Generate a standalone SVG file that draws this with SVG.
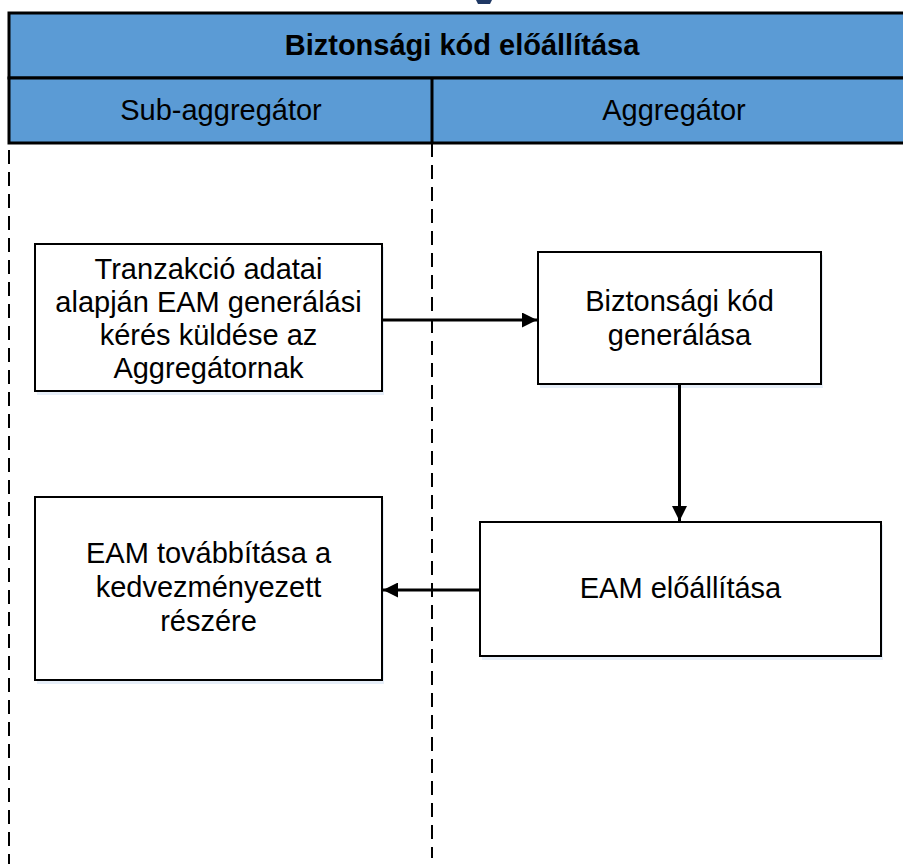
<svg xmlns="http://www.w3.org/2000/svg" width="903" height="864" viewBox="0 0 903 864">
<style>
.hdr{fill:#5b9bd5;stroke:#000;stroke-width:3}
.title{font-family:"Liberation Sans",Arial,sans-serif;font-size:29px;font-weight:bold;fill:#000;text-anchor:middle}
.lane{font-family:"Liberation Sans",Arial,sans-serif;font-size:29px;fill:#000;text-anchor:middle}
.box{fill:#fff;stroke:#000;stroke-width:2}
.shadow{fill:#e6eef8}
.txt{font-family:"Liberation Sans",Arial,sans-serif;font-size:29px;fill:#000;text-anchor:middle}
.dash{stroke:#000;stroke-width:2;stroke-dasharray:14,8;fill:none}
.conn{stroke:#000;stroke-width:3;fill:none}
</style>
<defs>
<marker id="arr" viewBox="0 0 10 10" refX="10" refY="5" markerWidth="5.5" markerHeight="5" orient="auto" markerUnits="strokeWidth">
<path d="M0,0 L10,5 L0,10 z" fill="#000"/>
</marker>
</defs>
<rect width="903" height="864" fill="#fff"/>
<path d="M476,0 L492,0 L490,4 L478,4 z" fill="#1f3864"/>
<g id="pool">
<rect class="hdr" x="9" y="13" width="910" height="65"/>
<rect class="hdr" x="9" y="78" width="910" height="65"/>
<line x1="432" y1="78" x2="432" y2="143" stroke="#000" stroke-width="3"/>
<text class="title" x="462" y="55">Biztonsági kód előállítása</text>
<text class="lane" x="221" y="120">Sub-aggregátor</text>
<text class="lane" x="674" y="120">Aggregátor</text>
</g>
<g id="lanes">
<line class="dash" x1="9" y1="150" x2="9" y2="864"/>
<line class="dash" x1="432" y1="143" x2="432" y2="858"/>
</g>
<g id="n1">
<rect class="shadow" x="37" y="247" width="347" height="148"/>
<rect class="box" x="35" y="244" width="347" height="147"/>
<text class="txt" x="208.5" y="279">Tranzakció adatai</text>
<text class="txt" x="208.5" y="312">alapján EAM generálási</text>
<text class="txt" x="208.5" y="345">kérés küldése az</text>
<text class="txt" x="208.5" y="378">Aggregátornak</text>
</g>
<g id="n2">
<rect class="shadow" x="540" y="255" width="283" height="133"/>
<rect class="box" x="538" y="252" width="283" height="132"/>
<text class="txt" x="679.5" y="311">Biztonsági kód</text>
<text class="txt" x="679.5" y="345">generálása</text>
</g>
<g id="n3">
<rect class="shadow" x="482" y="525" width="401" height="135"/>
<rect class="box" x="480" y="522" width="401" height="134"/>
<text class="txt" x="680.5" y="598">EAM előállítása</text>
</g>
<g id="n4">
<rect class="shadow" x="37" y="500" width="347" height="184"/>
<rect class="box" x="35" y="497" width="347" height="183"/>
<text class="txt" x="208.5" y="563">EAM továbbítása a</text>
<text class="txt" x="208.5" y="597">kedvezményezett</text>
<text class="txt" x="208.5" y="631">részére</text>
</g>
<g id="connectors">
<line class="conn" x1="382" y1="320" x2="537" y2="320" marker-end="url(#arr)"/>
<line class="conn" x1="679.5" y1="384" x2="679.5" y2="521" marker-end="url(#arr)"/>
<line class="conn" x1="480" y1="590" x2="383" y2="590" marker-end="url(#arr)"/>
</g>
</svg>
